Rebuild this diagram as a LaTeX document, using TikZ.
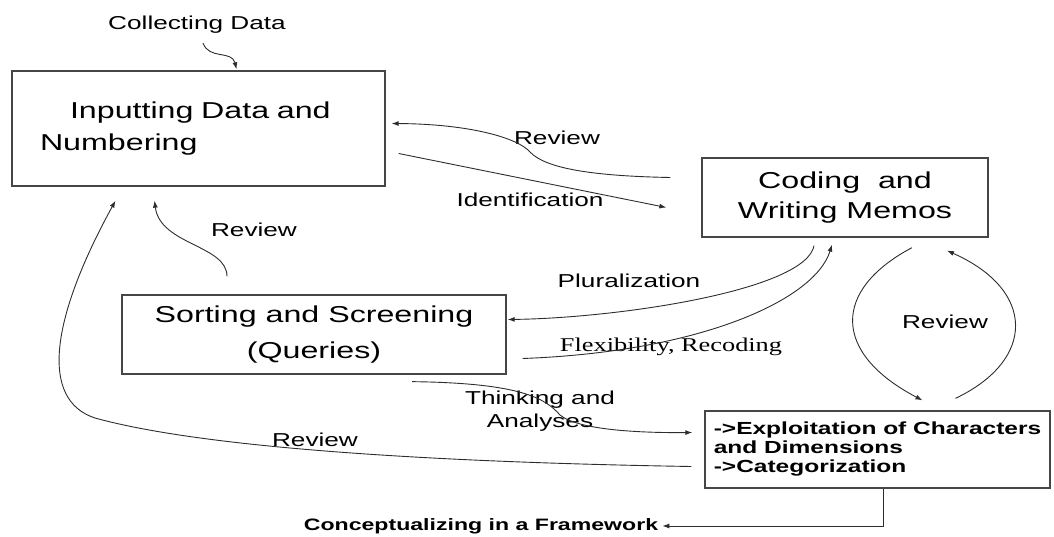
\documentclass[tikz,border=0pt]{standalone}
\usepackage{fontspec}
\usepackage{xcolor}
\usepackage{tikz}
\newfontfamily\widesans[FakeStretch=1.4]{Liberation Sans}
\newfontfamily\wideserif[FakeStretch=1.35]{Liberation Serif}
\definecolor{linegray}{RGB}{45,45,45}
\definecolor{boxgray}{RGB}{70,70,70}
\usetikzlibrary{calc,arrows.meta}

\begin{document}
\begin{tikzpicture}[x=1pt,y=-1pt,
  box/.style={draw=boxgray, line width=1.3pt, inner sep=0pt},
  lbl/.style={font=\widesans\fontsize{18.7}{23}\selectfont, inner sep=1pt},
  arr/.style={draw=linegray, line width=0.9pt, -{Latex[length=7pt,width=5pt]}}
]
\useasboundingbox (0,0) rectangle (1054,537);

% the four boxes
\node[box, minimum width=373pt, minimum height=115pt, text width=317pt, align=left,
  font=\widesans\fontsize{23}{32}\selectfont] (A) at (198.5,128.5)
  {\hspace*{30pt}Inputting Data and\\Numbering};
\node[box, minimum width=286pt, minimum height=79pt, align=center,
  font=\widesans\fontsize{23}{30}\selectfont] (B) at (845,197.5)
  {Coding\ \ and\\Writing Memos};
\node[box, minimum width=384pt, minimum height=79pt, align=center,
  font=\widesans\fontsize{23}{36}\selectfont] (C) at (314,334.5)
  {Sorting and Screening\\(Queries)};
\node[box, minimum width=345pt, minimum height=77pt, align=left,
  font=\widesans\bfseries\fontsize{17.5}{19}\selectfont] (D) at (877.5,449.5)
  {->Exploitation of Characters\\and Dimensions\\->Categorization};

% labels
\node[lbl] (collect) at (197,25) {Collecting Data};
\node[lbl] (revAB) at (557,138) {Review};
\node[lbl] (ident) at (530,200) {Identification};
\node[lbl] (revCA) at (254,230) {Review};
\node[lbl] (plural) at (629,281) {Pluralization};
\node[font=\wideserif\fontsize{19.5}{22}\selectfont, inner sep=1pt] (flex) at (671,347) {Flexibility, Recoding};
\node[lbl] (revBD) at (945,322) {Review};
\node[lbl, align=center] (think) at (540,411) {Thinking and\\Analyses};
\node[lbl] (revDA) at (315,440) {Review};
\node[font=\widesans\bfseries\fontsize{16.5}{19}\selectfont, inner sep=2pt] (concept) at (481,526)
  {Conceptualizing in a Framework};

% connectors
\draw[arr] ($(collect.center)+(6,18)$) .. controls (209,60) and (232,50) .. ($(A.north)+(38,-1)$);
\draw[arr] ($(B.west)+(-31,-20)$) .. controls (590,176) and (545,168) .. (530,152)
  .. controls (518,138) and (470,124) .. ($(A.east)+(6,-5)$);
\draw[arr] ($(A.east)+(13,25)$) -- ($(B.west)+(-35,10)$);
\draw[arr] ($(B.south)+(-31,8)$) .. controls (806,290) and (620,318) .. ($(C.east)+(1,-15)$);
\draw[arr] ($(C.east)+(16,24)$) .. controls (700,352) and (815,300) .. ($(B.south)+(-13,7)$);
\draw[arr] ($(B.south)+(67,10)$) .. controls (832,290) and (832,353) .. ($(D.north)+(45,-10)$);
\draw[arr] ($(D.north)+(78,-12)$) .. controls (1036,360) and (1036,290) .. ($(B.south)+(102,13)$);
\draw[arr] ($(C.north)+(-87,-18)$) .. controls (227,245) and (160,245) .. ($(A.south)+(-44,14)$);
\draw[arr] ($(D.west)+(-13,17)$) .. controls (420,462) and (200,447) .. (95,418)
  .. controls (40,400) and (50,320) .. ($(A.south)+(-83,14)$);
\draw[arr] ($(C.south)+(98,7)$) .. controls (520,383) and (545,398) .. (560,415)
  .. controls (578,430) and (640,433) .. ($(D.west)+(-12,-17)$);
\draw[arr] ($(D.south)+(5.5,0)$) |- ($(concept.east)+(2,0)$);
\end{tikzpicture}
\end{document}
